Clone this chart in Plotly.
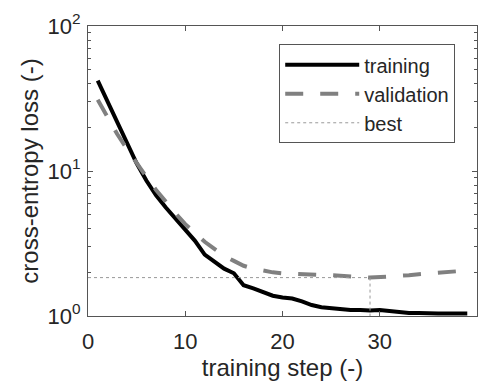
import plotly.graph_objects as go

steps = list(range(1, 40))
training = [42, 30, 21.5, 15.5, 11.3, 8.6, 6.8, 5.6, 4.7, 3.9,
            3.3, 2.65, 2.35, 2.12, 1.97, 1.63, 1.55, 1.45, 1.38, 1.34,
            1.32, 1.26, 1.19, 1.15, 1.13, 1.11, 1.10, 1.10, 1.09, 1.10,
            1.08, 1.06, 1.05, 1.05, 1.04, 1.04, 1.04, 1.04, 1.04]
validation = [31, 23.5, 18.0, 14.2, 11.3, 9.1, 7.4, 6.1, 5.1, 4.3,
              3.7, 3.25, 2.9, 2.6, 2.4, 2.22, 2.12, 2.05, 2.0, 1.97,
              1.95, 1.94, 1.93, 1.92, 1.91, 1.90, 1.88, 1.86, 1.84, 1.85,
              1.86, 1.88, 1.91, 1.94, 1.96, 1.99, 2.02, 2.04, 2.06]
best_step = 29
best_value = 1.84

x_ticks = [0, 10, 20, 30, 40]
y_ticks = [1, 10, 100]
y_ticktext = ["10<sup>0</sup>", "10<sup>1</sup>", "10<sup>2</sup>"]

axis_color = "#555555"
text_color = "#262626"
font_family = "Liberation Sans, Arial, sans-serif"

fig = go.Figure()
fig.add_trace(go.Scatter(x=steps, y=training, mode="lines", name="training",
                         line=dict(color="black", width=4)))
fig.add_trace(go.Scatter(x=steps, y=validation, mode="lines", name="validation",
                         line=dict(color="#808080", width=4, dash="18px,17px")))
fig.add_trace(go.Scatter(x=[0, best_step, best_step], y=[best_value, best_value, 1],
                         mode="lines", name="best",
                         line=dict(color="#999999", width=1, dash="dot")))

fig.update_layout(
    width=488, height=387,
    margin=dict(l=88, r=10, t=24, b=71),
    paper_bgcolor="white", plot_bgcolor="white",
    font=dict(family=font_family, size=20, color=text_color),
    showlegend=True,
    legend=dict(x=0.944, y=0.937, xanchor="right", yanchor="top",
                bgcolor="white", bordercolor=axis_color, borderwidth=1,
                font=dict(size=20, color=text_color), itemwidth=74,
                tracegroupgap=0),
)
fig.update_xaxes(
    range=[0, 40], tickvals=x_ticks, ticks="inside", ticklen=5,
    tickcolor=axis_color, showline=True, linecolor=axis_color, linewidth=1,
    mirror="ticks", showgrid=False, zeroline=False,
    tickfont=dict(size=22), ticklabelstandoff=6,
    title=dict(text="training step (-)", font=dict(size=24), standoff=4),
)
fig.update_yaxes(
    type="log", range=[0, 2], tickvals=y_ticks, ticktext=y_ticktext,
    ticks="inside", ticklen=5, tickcolor=axis_color,
    showline=True, linecolor=axis_color, linewidth=1, mirror="ticks",
    showgrid=False, zeroline=False, tickfont=dict(size=22),
    ticklabelstandoff=2,
    minor=dict(ticks="inside", ticklen=3, tickcolor=axis_color, dtick="D1", showgrid=False),
    title=dict(text="cross-entropy loss (-)", font=dict(size=24), standoff=2),
)

fig.write_html("out.html")
